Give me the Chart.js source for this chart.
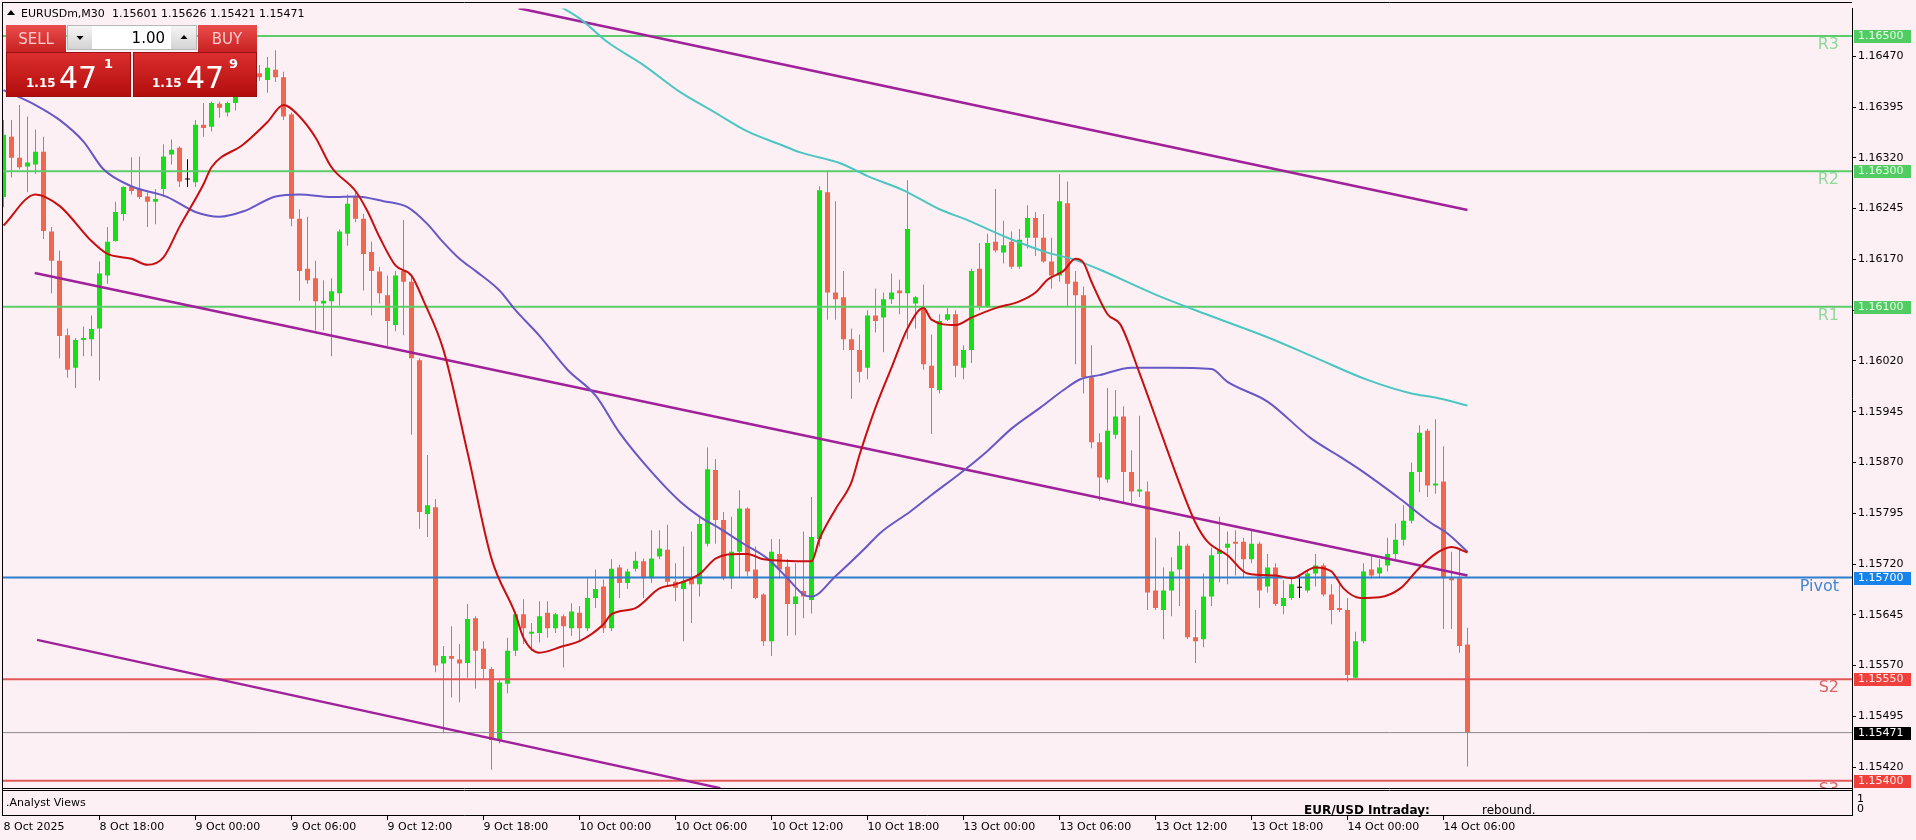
<!DOCTYPE html>
<html>
<head>
<meta charset="utf-8">
<script src="https://cdn.jsdelivr.net/npm/chart.js@4.4.1/dist/chart.umd.min.js"></script>
<style>
  html, body { margin: 0; padding: 0; background: #fdf0f4; }
  #wrap { width: 1916px; height: 840px; }
</style>
</head>
<body>
<div id="wrap"><canvas id="mt4Chart" width="1916" height="840"></canvas></div>
<script>
// EURUSDm M30, bougies (index 0 = 8 Oct 12:00)
const opens = [1.16262,1.16351,1.16320,1.16307,1.16310,1.16329,1.16211,1.16168,1.16058,1.16010,1.16051,1.16052,1.16068,1.16146,1.16197,1.16237,1.16277,1.16274,1.16263,1.16255,
  1.16274,1.16325,1.16335,1.16288,1.16284,1.16369,1.16366,1.16400,1.16387,1.16401,1.16418,1.16440,1.16445,1.16435,1.16450,1.16439,1.16384,1.16230,1.16156,1.16142,
  1.16105,1.16108,1.16120,1.16208,1.16262,1.16230,1.16181,1.16152,1.16117,1.16073,1.16153,1.16137,1.16021,1.15794,1.15804,1.15573,1.15584,1.15579,1.15574,1.15640,
  1.15595,1.15565,1.15460,1.15543,1.15592,1.15646,1.15617,1.15618,1.15648,1.15625,1.15643,1.15625,1.15648,1.15625,1.15670,1.15687,1.15625,1.15715,1.15692,1.15713,
  1.15724,1.15699,1.15731,1.15741,1.15694,1.15683,1.15699,1.15690,1.15750,1.15859,1.15785,1.15699,1.15738,1.15802,1.15712,1.15675,1.15606,1.15735,1.15716,1.15661,
  1.15680,1.15667,1.15757,1.16269,1.16121,1.16114,1.16052,1.16036,1.16010,1.16087,1.16084,1.16111,1.16124,1.16120,1.16105,1.16098,1.16013,1.15977,1.16081,1.16089,
  1.16010,1.16036,1.16156,1.16101,1.16196,1.16180,1.16196,1.16159,1.16202,1.16231,1.16202,1.16167,1.16146,1.16253,1.16137,1.16117,1.15996,1.15900,1.15845,1.15911,
  1.15938,1.15856,1.15827,1.15827,1.15681,1.15652,1.15681,1.15712,1.15747,1.15612,1.15609,1.15672,1.15735,1.15744,1.15753,1.15753,1.15727,1.15750,1.15687,1.15715,
  1.15658,1.15670,1.15685,1.15681,1.15706,1.15718,1.15675,1.15655,1.15652,1.15552,1.15606,1.15712,1.15706,1.15718,1.15735,1.15756,1.15784,1.15856,1.15917,1.15836,
  1.15842,1.15699,1.15699,1.15601];
const highs = [1.16376,1.16376,1.16398,1.16381,1.16362,1.16351,1.16218,1.16183,1.16068,1.16054,1.16071,1.16087,1.16167,1.16218,1.16255,1.16278,1.16321,1.16322,1.16271,1.16274,
  1.16340,1.16347,1.16337,1.16318,1.16376,1.16401,1.16403,1.16403,1.16403,1.16425,1.16448,1.16460,1.16457,1.16469,1.16479,1.16447,1.16387,1.16244,1.16233,1.16168,
  1.16139,1.16142,1.16214,1.16266,1.16269,1.16237,1.16196,1.16159,1.16146,1.16153,1.16228,1.16146,1.16024,1.15881,1.15816,1.15599,1.15628,1.15602,1.15661,1.15643,
  1.15606,1.15568,1.15551,1.15611,1.15650,1.15668,1.15633,1.15665,1.15665,1.15648,1.15646,1.15662,1.15658,1.15699,1.15712,1.15697,1.15727,1.15719,1.15713,1.15738,
  1.15728,1.15770,1.15770,1.15778,1.15721,1.15746,1.15768,1.15788,1.15892,1.15875,1.15797,1.15790,1.15829,1.15804,1.15746,1.15677,1.15757,1.15757,1.15727,1.15721,
  1.15768,1.15819,1.16278,1.16302,1.16256,1.16153,1.16068,1.16059,1.16095,1.16127,1.16121,1.16149,1.16140,1.16287,1.16116,1.16133,1.16059,1.16089,1.16098,1.16095,
  1.16043,1.16156,1.16194,1.16208,1.16274,1.16227,1.16211,1.16215,1.16250,1.16240,1.16237,1.16202,1.16296,1.16285,1.16153,1.16130,1.16043,1.15913,1.15980,1.15977,
  1.15953,1.15888,1.15939,1.15842,1.15759,1.15715,1.15730,1.15768,1.15750,1.15652,1.15706,1.15744,1.15790,1.15768,1.15770,1.15759,1.15770,1.15753,1.15735,1.15721,
  1.15696,1.15699,1.15703,1.15712,1.15735,1.15721,1.15690,1.15690,1.15670,1.15620,1.15721,1.15732,1.15727,1.15759,1.15780,1.15807,1.15870,1.15925,1.15920,1.15934,
  1.15894,1.15738,1.15741,1.15626];
const lows = [1.16247,1.16291,1.16303,1.16269,1.16296,1.16200,1.16120,1.16024,1.15995,1.15980,1.16027,1.16027,1.15991,1.16134,1.16196,1.16227,1.16266,1.16259,1.16218,1.16222,
  1.16262,1.16310,1.16277,1.16277,1.16277,1.16351,1.16359,1.16379,1.16381,1.16390,1.16410,1.16432,1.16434,1.16416,1.16432,1.16376,1.16219,1.16109,1.16134,1.16065,
  1.16065,1.16027,1.16102,1.16190,1.16225,1.16124,1.16087,1.16105,1.16042,1.16064,1.16058,1.15911,1.15772,1.15760,1.15560,1.15470,1.15523,1.15516,1.15552,1.15536,
  1.15551,1.15416,1.15455,1.15529,1.15584,1.15602,1.15592,1.15604,1.15611,1.15618,1.15567,1.15614,1.15606,1.15621,1.15655,1.15618,1.15621,1.15670,1.15683,1.15709,
  1.15670,1.15692,1.15727,1.15687,1.15665,1.15606,1.15633,1.15672,1.15746,1.15750,1.15696,1.15683,1.15699,1.15702,1.15668,1.15599,1.15584,1.15699,1.15614,1.15615,
  1.15640,1.15647,1.15746,1.16081,1.16081,1.16036,1.15964,1.15988,1.15993,1.16062,1.16033,1.16104,1.16089,1.16052,1.16068,1.16007,1.15912,1.15972,1.16079,1.15996,
  1.15993,1.16017,1.16095,1.16098,1.16180,1.16164,1.16156,1.16156,1.16186,1.16175,1.16165,1.16127,1.16137,1.16101,1.16015,1.15972,1.15891,1.15813,1.15840,1.15905,
  1.15810,1.15810,1.15819,1.15652,1.15652,1.15609,1.15643,1.15658,1.15609,1.15574,1.15597,1.15658,1.15693,1.15690,1.15703,1.15699,1.15721,1.15655,1.15678,1.15658,
  1.15646,1.15667,1.15670,1.15678,1.15687,1.15672,1.15631,1.15649,1.15546,1.15549,1.15603,1.15699,1.15699,1.15709,1.15727,1.15747,1.15780,1.15826,1.15819,1.15824,
  1.15624,1.15624,1.15589,1.15421];
const closes = [1.16354,1.16320,1.16306,1.16313,1.16329,1.16212,1.16168,1.16057,1.16007,1.16051,1.16054,1.16067,1.16149,1.16196,1.16240,1.16277,1.16271,1.16262,1.16255,1.16259,
  1.16322,1.16332,1.16285,1.16288,1.16369,1.16364,1.16401,1.16394,1.16401,1.16418,1.16440,1.16452,1.16439,1.16453,1.16439,1.16381,1.16230,1.16153,1.16139,1.16108,
  1.16109,1.16123,1.16211,1.16252,1.16230,1.16178,1.16153,1.16120,1.16079,1.16146,1.16137,1.16024,1.15797,1.15807,1.15570,1.15584,1.15580,1.15573,1.15639,1.15592,
  1.15565,1.15460,1.15545,1.15592,1.15646,1.15625,1.15620,1.15643,1.15625,1.15646,1.15628,1.15650,1.15625,1.15670,1.15683,1.15625,1.15713,1.15692,1.15709,1.15725,
  1.15699,1.15728,1.15743,1.15694,1.15685,1.15694,1.15690,1.15779,1.15860,1.15785,1.15699,1.15738,1.15802,1.15709,1.15670,1.15606,1.15738,1.15712,1.15661,1.15672,
  1.15672,1.15760,1.16272,1.16121,1.16111,1.16052,1.16036,1.16004,1.16087,1.16079,1.16111,1.16121,1.16120,1.16215,1.16114,1.16015,1.15980,1.16079,1.16089,1.16013,
  1.16036,1.16153,1.16101,1.16194,1.16183,1.16191,1.16159,1.16199,1.16231,1.16202,1.16167,1.16146,1.16256,1.16134,1.16117,1.15996,1.15900,1.15848,1.15917,1.15938,
  1.15856,1.15827,1.15830,1.15678,1.15655,1.15681,1.15709,1.15747,1.15612,1.15606,1.15672,1.15733,1.15741,1.15750,1.15750,1.15727,1.15750,1.15681,1.15715,1.15661,
  1.15670,1.15690,1.15685,1.15706,1.15718,1.15675,1.15652,1.15652,1.15556,1.15606,1.15709,1.15703,1.15715,1.15735,1.15756,1.15784,1.15856,1.15914,1.15836,1.15839,
  1.15699,1.15696,1.15599,1.15471];

// Moyennes mobiles
const fastMaIdx = [0,4,7,11,13,16,18,20,22,25,26,30,33,35,37,39,41,44,45.5,47,49,51,52.5,55,58,61,64,65,67,70,72,75,76,79,82,84,87,89,92,93,95,101,102,104,106,107,109,111,113,115,116,119,121,124,127,129,130.5,132.5,134,135,136,138,139.6,142,144.6,147,149,150.5,153,155.5,159,161,164,166,167.5,169.6,172,174.6,176.8,179,181,183];
const fastMaVal = [1.16220,1.16266,1.16249,1.16197,1.16178,1.16171,1.16162,1.16173,1.16218,1.16281,1.16306,1.16340,1.16373,1.16398,1.16381,1.16350,1.16306,1.16271,1.16241,1.16203,1.16161,1.16146,1.16109,1.16036,1.15885,1.15728,1.15646,1.15611,1.15589,1.15599,1.15606,1.15631,1.15646,1.15655,1.15684,1.15690,1.15705,1.15728,1.15735,1.15735,1.15727,1.15724,1.15757,1.15801,1.15841,1.15881,1.15951,1.16010,1.16068,1.16098,1.16081,1.16073,1.16084,1.16098,1.16108,1.16121,1.16140,1.16153,1.16171,1.16165,1.16137,1.16089,1.16074,1.16002,1.15917,1.15839,1.15781,1.15753,1.15733,1.15706,1.15703,1.15699,1.15715,1.15709,1.15684,1.15670,1.15671,1.15684,1.15712,1.15735,1.15745,1.15737];
const slowMaIdx = [0,4,7,10,12.5,16,20.5,24,27,30,34,37,41,44,47.5,50.5,53,54.6,57,59,62,64,67,70.5,74,77,81,84.6,87,89.6,92.5,95.5,98,100,101,104,107.5,109.6,113.4,116,119.6,123,126,129.6,132.5,134.6,137,141,145.5,151,153,158,163.4,167,169.6,174.6,178.4,180.5,183];
const slowMaVal = [1.16420,1.16398,1.16376,1.16344,1.16303,1.16278,1.16262,1.16240,1.16233,1.16241,1.16263,1.16266,1.16262,1.16263,1.16256,1.16247,1.16222,1.16200,1.16171,1.16153,1.16124,1.16095,1.16057,1.16007,1.15969,1.15914,1.15856,1.15812,1.15790,1.15772,1.15750,1.15728,1.15699,1.15675,1.15672,1.15702,1.15741,1.15766,1.15798,1.15822,1.15854,1.15887,1.15920,1.15951,1.15977,1.15993,1.15999,1.16010,1.16010,1.16008,1.15989,1.15960,1.15906,1.15879,1.15859,1.15816,1.15781,1.15765,1.15738];
const longMaIdx = [67,72,75.5,80,84.6,88.8,93,97,99.6,104.6,108,112.5,117,120.5,125.5,130.5,133.75,137,144,151,158,163.75,170.5,176,179,183];
const longMaVal = [1.16560,1.16526,1.16491,1.16457,1.16417,1.16388,1.16359,1.16340,1.16328,1.16312,1.16293,1.16272,1.16244,1.16228,1.16202,1.16180,1.16170,1.16155,1.16118,1.16086,1.16055,1.16026,1.15992,1.15972,1.15966,1.15954];

// Lignes de tendance (deux points chacune)
const trendUpperIdx = [64.4, 183];   const trendUpperVal = [1.16541, 1.16243];
const trendMiddleIdx = [3.9, 183];   const trendMiddleVal = [1.16150, 1.15703];
const trendLowerIdx = [4.2, 89.6];   const trendLowerVal = [1.15608, 1.15389];

// Niveaux pivots
const levelNames = ['R3', 'R2', 'R1', 'Pivot', 'S2', 'S3'];
const levelValues = [1.16500, 1.16300, 1.16100, 1.15700, 1.15550, 1.15400];
const lastPrice = 1.15471;

// Graduations
const priceTicks = ['1.16470','1.16395','1.16320','1.16245','1.16170','1.16095','1.16020','1.15945','1.15870','1.15795','1.15720','1.15645','1.15570','1.15495','1.15420'];
const timeTickIdx = [0, 12, 24, 36, 48, 60, 72, 84, 96, 108, 120, 132, 144, 156, 168, 180];
const timeTickLabels = ['8 Oct 2025','8 Oct 18:00','9 Oct 00:00','9 Oct 06:00','9 Oct 12:00','9 Oct 18:00','10 Oct 00:00','10 Oct 06:00','10 Oct 12:00','10 Oct 18:00','13 Oct 00:00','13 Oct 06:00','13 Oct 12:00','13 Oct 18:00','14 Oct 00:00','14 Oct 06:00'];

const BG = '#fdf0f4';
const BULL = '#17df17';
const BEAR = '#f1664e';
const DOJI = '#000000';
const FONT = 'DejaVu Sans';
const X_MIN = -0.1875;
const X_MAX = X_MIN + 1850 / 8;

function levelStyle(name) {
  if (name[0] === 'R') return { line: '#5ccd68', box: '#50cc62', text: '#8fd99b', boxText: '#eaffea' };
  if (name === 'Pivot') return { line: '#2c7fcc', box: '#1683ec', text: '#3f86d6', boxText: '#ffffff' };
  return { line: '#e05858', box: '#f0403c', text: '#dc6262', boxText: '#ffe8e8' };
}

function candleColor(i) {
  if (closes[i] > opens[i]) return BULL;
  if (closes[i] < opens[i]) return BEAR;
  return DOJI;
}

const idx = opens.map((_, i) => i);
const toPts = (xs, ys) => xs.map((x, k) => ({ x: x, y: ys[k] }));

const datasets = [];
// MAs (au-dessus)
datasets.push({ type: 'line', data: toPts(fastMaIdx, fastMaVal), borderColor: '#c80f0f', borderWidth: 2, pointRadius: 0, cubicInterpolationMode: 'monotone', order: 1 });
datasets.push({ type: 'line', data: toPts(slowMaIdx, slowMaVal), borderColor: '#6658c8', borderWidth: 2, pointRadius: 0, cubicInterpolationMode: 'monotone', order: 1 });
datasets.push({ type: 'line', data: toPts(longMaIdx, longMaVal), borderColor: '#4cc6c2', borderWidth: 2, pointRadius: 0, cubicInterpolationMode: 'monotone', order: 1 });
// tendances
[[trendUpperIdx, trendUpperVal], [trendMiddleIdx, trendMiddleVal], [trendLowerIdx, trendLowerVal]].forEach(t => {
  datasets.push({ type: 'line', data: toPts(t[0], t[1]), borderColor: '#a0229a', borderWidth: 2.5, pointRadius: 0, tension: 0, order: 2 });
});
// niveaux
levelValues.forEach((v, k) => {
  datasets.push({ type: 'line', data: [{ x: X_MIN, y: v }, { x: X_MAX, y: v }], borderColor: levelStyle(levelNames[k]).line, borderWidth: 2, pointRadius: 0, order: 3 });
});
datasets.push({ type: 'line', data: [{ x: X_MIN, y: lastPrice }, { x: X_MAX, y: lastPrice }], borderColor: '#8a8a8a', borderWidth: 1, pointRadius: 0, order: 3 });
// bougies
datasets.push({ type: 'bar', data: idx.map(i => ({ x: i, y: [opens[i], closes[i]] })), backgroundColor: c => candleColor(c.dataIndex), barThickness: 5, minBarLength: 1, grouped: false, inflateAmount: 0, borderWidth: 0, order: 4 });
datasets.push({ type: 'bar', data: idx.map(i => ({ x: i, y: [lows[i], highs[i]] })), backgroundColor: c => candleColor(c.dataIndex), barThickness: 1, minBarLength: 1, grouped: false, inflateAmount: 0, borderWidth: 0, order: 5 });

function vGrad(c, x, y, w, h, top, bottom) {
  const g = c.createLinearGradient(0, y, 0, y + h);
  g.addColorStop(0, top);
  g.addColorStop(1, bottom);
  c.fillStyle = g;
  c.fillRect(x, y, w, h);
}

function tri(c, cx, cy, up) {
  c.beginPath();
  if (up) { c.moveTo(cx - 3.5, cy + 2); c.lineTo(cx + 3.5, cy + 2); c.lineTo(cx, cy - 2); }
  else { c.moveTo(cx - 3.5, cy - 2); c.lineTo(cx + 3.5, cy - 2); c.lineTo(cx, cy + 2); }
  c.closePath();
  c.fill();
}

const mt4Plugin = {
  id: 'mt4',
  beforeDraw(chart) {
    const c = chart.ctx;
    c.save();
    c.fillStyle = BG;
    c.fillRect(0, 0, chart.width, chart.height);
    c.restore();
  },
  afterDraw(chart) {
    const c = chart.ctx;
    const a = chart.chartArea;
    const ys = chart.scales.y;
    const xs = chart.scales.x;
    c.save();

    // cadre
    c.strokeStyle = '#000';
    c.lineWidth = 1;
    c.beginPath();
    c.moveTo(a.left, 2.5); c.lineTo(a.right, 2.5);
    c.moveTo(2.5, 2); c.lineTo(2.5, 816);
    c.moveTo(a.left, a.bottom + 0.5); c.lineTo(a.right, a.bottom + 0.5);
    c.moveTo(a.left, 790.5); c.lineTo(a.right, 790.5);
    c.moveTo(a.left, 815.5); c.lineTo(a.right + 0.5, 815.5);
    c.moveTo(a.right + 0.5, a.bottom); c.lineTo(a.right + 0.5, 816);
    c.stroke();

    // sous-fenetre
    c.fillStyle = '#000';
    c.font = '11px ' + FONT;
    c.textBaseline = 'alphabetic';
    c.textAlign = 'left';
    c.fillText('.Analyst Views', 6, 806);
    c.fillText('1', 1857, 802);
    c.fillText('0', 1857, 812);
    c.font = 'bold 12px ' + FONT;
    c.fillText('EUR/USD Intraday:', 1304, 814);
    c.font = '12px ' + FONT;
    c.fillText('rebound.', 1482, 814);

    // graduations du temps
    c.beginPath();
    timeTickIdx.forEach((v, k) => {
      if (k === 0) return;
      const px = Math.floor(xs.getPixelForValue(v)) + 0.5;
      c.moveTo(px, 816); c.lineTo(px, 820);
    });
    c.stroke();

    // etiquettes des niveaux dans le graphique
    c.save();
    c.beginPath();
    c.rect(a.left, a.top, a.right - a.left, a.bottom - a.top);
    c.clip();
    c.font = '16px ' + FONT;
    c.textAlign = 'right';
    levelValues.forEach((v, k) => {
      const st = levelStyle(levelNames[k]);
      c.fillStyle = st.text;
      c.fillText(levelNames[k], a.right - 13, ys.getPixelForValue(v) + 13);
    });
    c.restore();

    // etiquettes de prix sur l'axe
    c.font = '11px ' + FONT;
    c.textAlign = 'left';
    c.textBaseline = 'middle';
    const boxes = levelValues.map((v, k) => ({ v: v, st: levelStyle(levelNames[k]) }));
    boxes.push({ v: lastPrice, st: { box: '#000000', boxText: '#ffffff' } });
    boxes.forEach(b => {
      const py = Math.round(ys.getPixelForValue(b.v));
      c.fillStyle = b.st.box;
      c.fillRect(a.right + 2, py - 6, 57, 13);
      c.fillStyle = b.st.boxText;
      c.fillText(b.v.toFixed(5), a.right + 6, py + 0.5);
    });

    // titre
    c.fillStyle = '#000';
    c.beginPath();
    c.moveTo(7, 15); c.lineTo(15, 15); c.lineTo(11, 10); c.closePath(); c.fill();
    c.textBaseline = 'alphabetic';
    c.fillText('EURUSDm,M30', 21, 17);
    c.fillText('1.15601 1.15626 1.15421 1.15471', 112, 17);

    // panneau de trading
    vGrad(c, 6, 25, 60, 27, '#ea4c4c', '#c82222');
    vGrad(c, 198, 25, 59, 27, '#ea4c4c', '#c82222');
    vGrad(c, 6, 52, 125, 45, '#dc2e2e', '#b20d0d');
    vGrad(c, 133, 52, 124, 45, '#dc2e2e', '#b20d0d');
    c.fillStyle = '#ffffff';
    c.fillRect(92, 25, 79, 25);
    vGrad(c, 67, 25, 25, 25, '#f6f6f6', '#d2d2d2');
    vGrad(c, 171, 25, 26, 25, '#f6f6f6', '#d2d2d2');
    c.strokeStyle = '#b8b8b8';
    c.strokeRect(67.5, 25.5, 129, 24);
    c.strokeStyle = '#9a1010';
    c.strokeRect(6.5, 52.5, 124, 44);
    c.strokeRect(133.5, 52.5, 123, 44);
    c.fillStyle = '#000';
    tri(c, 80, 38, false);
    tri(c, 184, 37, true);
    c.font = '15px ' + FONT;
    c.textAlign = 'right';
    c.fillText('1.00', 165, 43);
    c.textAlign = 'center';
    c.fillStyle = '#ffcccc';
    c.fillText('SELL', 36, 44);
    c.fillText('BUY', 227, 44);
    c.textAlign = 'left';
    c.fillStyle = '#ffffff';
    c.font = 'bold 12px ' + FONT;
    c.fillText('1.15', 26, 87);
    c.fillText('1.15', 152, 87);
    c.font = '30px ' + FONT;
    c.fillText('47', 59, 88);
    c.fillText('47', 186, 88);
    c.font = 'bold 13px ' + FONT;
    c.fillText('1', 104, 68);
    c.fillText('9', 229, 68);

    c.restore();
  }
};

new Chart(document.getElementById('mt4Chart').getContext('2d'), {
  type: 'bar',
  data: { datasets: datasets },
  options: {
    responsive: false,
    animation: false,
    devicePixelRatio: 1,
    layout: { padding: { left: 2, top: 3, right: 0, bottom: 0 } },
    plugins: { legend: { display: false }, tooltip: { enabled: false } },
    scales: {
      x: {
        type: 'linear',
        min: X_MIN,
        max: X_MAX,
        offset: false,
        afterFit: s => { s.height = 52; s.paddingLeft = 0; s.paddingRight = 0; },
        afterBuildTicks: s => { s.ticks = timeTickIdx.map(v => ({ value: v })); },
        // tickLength sert seulement a descendre les libelles sous la sous-fenetre
        grid: { display: false, drawTicks: true, tickLength: 33 },
        border: { display: false },
        ticks: {
          autoSkip: false, maxRotation: 0, align: 'start', padding: 0,
          color: '#000', font: { family: FONT, size: 11 },
          callback: (v, i) => timeTickLabels[i]
        }
      },
      y: {
        type: 'linear',
        position: 'right',
        min: 1.153892,
        max: 1.165404,
        afterFit: s => { s.width = 64; },
        afterBuildTicks: s => { s.ticks = priceTicks.map(t => ({ value: parseFloat(t) })); },
        grid: { drawOnChartArea: false, drawTicks: true, tickLength: 4, color: '#000' },
        border: { display: true, color: '#000' },
        ticks: {
          autoSkip: false, padding: 2, color: '#000', font: { family: FONT, size: 11 },
          callback: (v, i) => priceTicks[i]
        }
      }
    }
  },
  plugins: [mt4Plugin]
});
</script>
</body>
</html>
